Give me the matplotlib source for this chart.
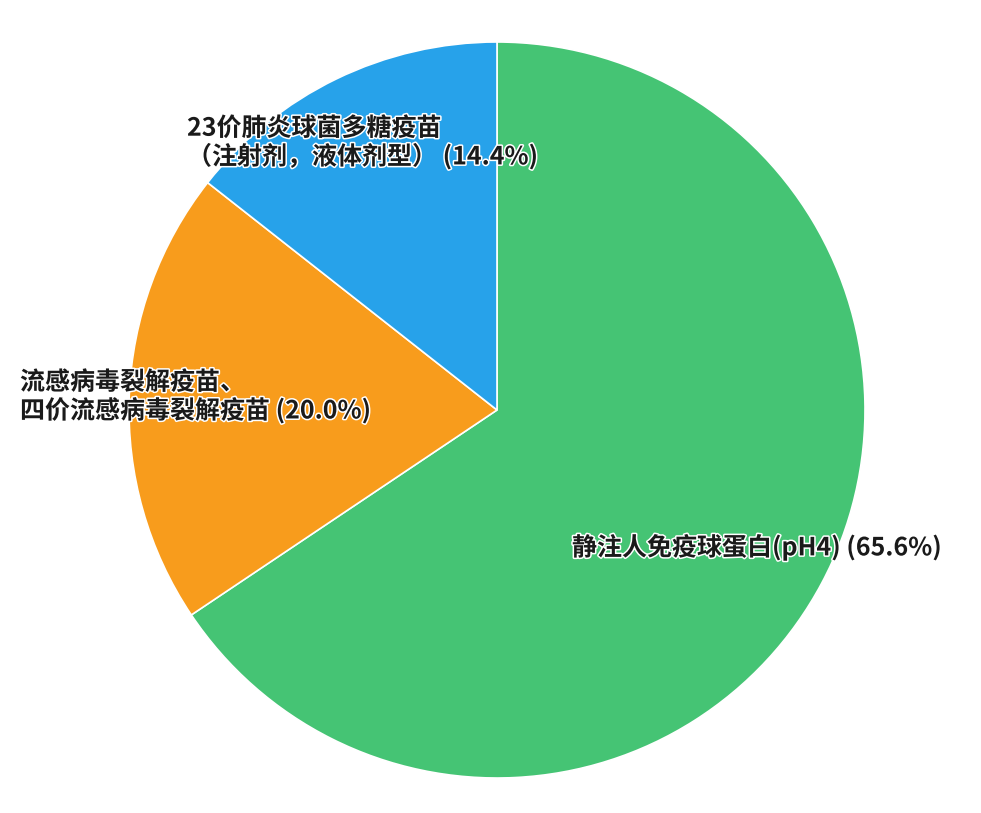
import matplotlib
matplotlib.use("Agg")
import matplotlib.pyplot as plt
import matplotlib.patheffects as pe

plt.rcParams['font.family'] = ['Noto Sans CJK SC', 'DejaVu Sans']

categories = ["静注人免疫球蛋白(pH4)",
              "流感病毒裂解疫苗、\n四价流感病毒裂解疫苗",
              "23价肺炎球菌多糖疫苗\n（注射剂，液体剂型）"]
values = [65.6, 20.0, 14.4]
colors = ["#45C474", "#F89C1C", "#27A2EA"]

W, H = 981, 813
fig = plt.figure(figsize=(W / 100, H / 100), dpi=100)
ax = fig.add_axes([0, 0, 1, 1])

cx, cy, r = 497, H - 410, 368
ax.pie(values, colors=colors, startangle=90, counterclock=False,
       center=(cx, cy), radius=r, frame=True,
       wedgeprops=dict(edgecolor='white', linewidth=1.2))
ax.set_xlim(0, W)
ax.set_ylim(0, H)
ax.set_aspect('equal')
ax.axis('off')

label_pos = [(572, H - 547), (20, H - 397), (187, H - 143)]
for name, v, (lx, ly) in zip(categories, values, label_pos):
    ax.text(lx, ly, f"{name} ({v:.1f}%)", ha='left', va='center',
            fontsize=18, fontweight='bold', color='#1a1a1a',
            linespacing=1.1,
            path_effects=[pe.withStroke(linewidth=2.2, foreground='white')])

fig.savefig("out.png", dpi=100)
